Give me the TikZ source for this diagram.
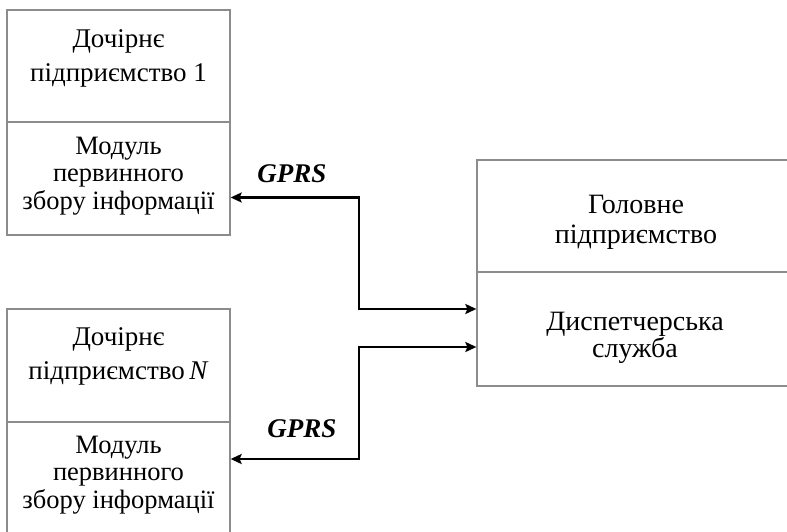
\documentclass[tikz,border=0pt]{standalone}
\usepackage{fontspec}
\setmainfont{Liberation Serif}
\usetikzlibrary{arrows.meta}
\definecolor{boxgray}{RGB}{140,140,140}
\begin{document}
\begin{tikzpicture}[x=1pt,y=-1pt,
  box/.style={draw=boxgray, line width=1.3pt, inner sep=0pt, minimum width=#1},
  box/.default=223pt,
  txt/.style={align=center, inner sep=0pt, font=\fontsize{27}{34}\selectfont},
  txtb/.style={align=center, inner sep=0pt, font=\fontsize{26.5}{27.5}\selectfont},
  txtr/.style={align=center, inner sep=0pt, font=\fontsize{28}{#1}\selectfont},
  lbl/.style={inner sep=0pt, font=\fontsize{27}{30}\selectfont\bfseries\itshape},
  link/.style={line width=2.4pt, {Stealth[length=11pt,width=10pt,inset=2pt]}-{Stealth[length=11pt,width=10pt,inset=2pt]}}
]
\useasboundingbox (0,0) rectangle (787,532);
\clip (0,0) rectangle (787,532);
\fill[white] (0,0) rectangle (787,532);

% boxes
\node[box, minimum height=112pt] (c1top) at (118.5,66) {};
\node[box, minimum height=113pt] (c1bot) at (118.5,178.5) {};
\node[box, minimum height=113pt] (cNtop) at (118.5,365.5) {};
\node[box, minimum height=140pt] (cNbot) at (118.5,492) {};
\node[box=323pt, minimum height=112pt] (hqtop) at (638.5,216) {};
\node[box=323pt, minimum height=114pt] (hqbot) at (638.5,329) {};

% texts
\node[txt] (t1) at (118.5,58) {Дочірнє\\підприємство 1};
\node[txtb] (t2) at (118.5,176) {Модуль\\первинного\\збору інформації};
\node[txt] (t3) at (118.5,356) {Дочірнє\\підприємство\,\textit{N}};
\node[txtb] (t4) at (118.5,475) {Модуль\\первинного\\збору інформації};
\node[txtr=30] (t5) at (636,222) {Головне\\підприємство};
\node[txtr=26.5] (t6) at (635,338) {Диспетчерська\\служба};

% labels
\node[lbl] (g1) at (292,174) {GPRS};
\node[lbl] (g2) at (302,429) {GPRS};

% connector end points
\coordinate (jx) at (359,0);
\coordinate (a1) at ([yshift=-19pt]c1bot.east);
\coordinate (b1) at ([yshift=20pt]hqbot.west);
\coordinate (a2) at ([yshift=33pt]cNbot.east);
\coordinate (b2) at ([yshift=-18pt]hqbot.west);

% connectors
\draw[link] (a1) -| (jx |- b1) -- (b1);
\draw[link] (a2) -| (jx |- b2) -- (b2);
\end{tikzpicture}
\end{document}
